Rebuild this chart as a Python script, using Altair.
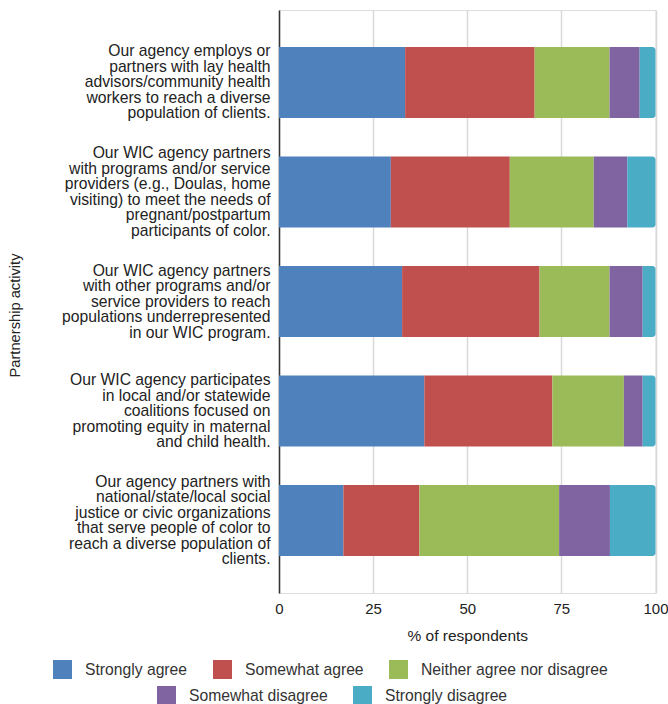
import altair as alt
import pandas as pd

activities = [
    "Our agency employs or|partners with lay health|advisors/community health|workers to reach a diverse|population of clients.",
    "Our WIC agency partners|with programs and/or service|providers (e.g., Doulas, home|visiting) to meet the needs of|pregnant/postpartum|participants of color.",
    "Our WIC agency partners|with other programs and/or|service providers to reach|populations underrepresented|in our WIC program.",
    "Our WIC agency participates|in local and/or statewide|coalitions focused on|promoting equity in maternal|and child health.",
    "Our agency partners with|national/state/local social|justice or civic organizations|that serve people of color to|reach a diverse population of|clients.",
]
responses = ["Strongly agree", "Somewhat agree", "Neither agree nor disagree",
             "Somewhat disagree", "Strongly disagree"]
strongly_agree = [33.5, 29.7, 32.7, 38.6, 17.1]
somewhat_agree = [34.4, 31.6, 36.5, 34.0, 20.2]
neither = [19.9, 22.3, 18.6, 19.0, 37.1]
somewhat_disagree = [8.0, 8.9, 8.8, 5.0, 13.5]
strongly_disagree = [4.2, 7.5, 3.4, 3.4, 12.1]
colors = ["#4f81bd", "#c0504d", "#9bbb59", "#8064a2", "#4bacc6"]
x_ticks = [0, 25, 50, 75, 100]

series = [strongly_agree, somewhat_agree, neither, somewhat_disagree, strongly_disagree]
rows = []
for ri, (resp, vals) in enumerate(zip(responses, series)):
    for act, v in zip(activities, vals):
        rows.append({"activity": act, "response": resp, "order": ri, "pct": v})
df = pd.DataFrame(rows)

FONT = "Liberation Sans"
LH = 15.5

base = alt.Chart(df).transform_stack(
    stack="pct", groupby=["activity"], as_=["x0", "x1"],
    sort=[alt.SortField("order", order="ascending")]
)

x_enc = alt.X("x0:Q", scale=alt.Scale(domain=[0, 100], nice=False),
              axis=alt.Axis(values=x_ticks, title="% of respondents", domain=False,
                            ticks=False, tickSize=0, labelPadding=8, titlePadding=12,
                            labelFlush=False,
                            grid=True, gridColor="#d9d9d9", gridWidth=1.5,
                            labelFontSize=15, titleFontSize=15.5, labelColor="#222",
                            titleColor="#222", titleFontWeight="normal", labelFont=FONT,
                            titleFont=FONT))
y_enc = alt.Y("activity:N", sort=activities,
              scale=alt.Scale(paddingInner=0.352, paddingOuter=0.338),
              axis=alt.Axis(title="Partnership activity", labelExpr="split(datum.label, '|')",
                            labelLimit=400, labelFontSize=15.7, labelLineHeight=LH,
                            labelOffset=alt.condition("length(split(datum.label, '|')) == 6",
                                                      alt.value(-2.5 * LH), alt.value(-2 * LH)),
                            labelColor="#222", labelPadding=9, ticks=False, tickSize=0,
                            domainColor="#333", domainWidth=1.5, labelFont=FONT,
                            titleFont=FONT, titleFontSize=14.7, titleFontWeight="normal",
                            titleColor="#222", titleX=-264, titleY=305, titleAngle=270,
                            titleAlign="center", titleBaseline="middle"))

legend_common = dict(orient="none", direction="horizontal", title=None, symbolType="square",
                     symbolSize=361, symbolStrokeWidth=0, labelFontSize=15.7, labelLimit=400,
                     labelFont=FONT, labelColor="#333", columnPadding=25, labelOffset=13)

layer_a = base.transform_filter(alt.datum.order <= 2).mark_bar().encode(
    x=x_enc, x2="x1:Q", y=y_enc,
    color=alt.Color("response:N",
                    scale=alt.Scale(domain=responses[:3], range=colors[:3]),
                    legend=alt.Legend(legendX=-226, legendY=650, **legend_common)),
)
layer_b = base.transform_filter(alt.datum.order == 3).mark_bar().encode(
    x=x_enc, x2="x1:Q", y=y_enc,
    color=alt.Color("response:N",
                    scale=alt.Scale(domain=responses[3:], range=colors[3:]),
                    legend=alt.Legend(legendX=-122, legendY=676, **legend_common)),
)
layer_c = base.transform_filter(alt.datum.order == 4).mark_bar(
    cornerRadiusTopRight=3, cornerRadiusBottomRight=3, color=colors[4]
).encode(x=x_enc, x2="x1:Q", y=y_enc)

chart = alt.layer(layer_a, layer_b, layer_c).resolve_scale(color="independent").properties(
    width=376.5, height=583,
    autosize=alt.AutoSizeParams(type="none"),
    padding={"left": 279, "top": 10, "right": 12.5, "bottom": 111},
    title=alt.TitleParams(text="WIC agency", anchor="start", fontSize=18, fontWeight="bold",
                          color="#666", dx=-269, offset=2, baseline="alphabetic",
                          frame="group", font=FONT),
).configure_view(stroke=None).configure(font=FONT)

chart.save("out.html", embed_options={"renderer": "svg", "actions": False})
